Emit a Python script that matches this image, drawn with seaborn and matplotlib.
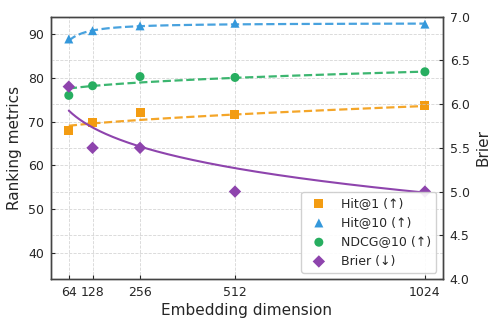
import numpy as np
import pandas as pd
import matplotlib
matplotlib.use('Agg')
import matplotlib.pyplot as plt
import seaborn as sns

# marker values
dims = [64, 128, 256, 512, 1024]
hit1 = [68.0, 69.8, 72.0, 71.6, 73.6]
hit10 = [88.9, 90.8, 91.9, 92.5, 92.3]
ndcg10 = [76.0, 78.2, 80.3, 80.1, 81.4]
brier = [6.2, 5.5, 5.5, 5.0, 5.0]

# trend-line readings at the same dims (the curves are fitted through these)
hit1_trend = [69.0, 69.6, 70.5, 71.5, 73.6]
hit10_trend = [88.5, 90.7, 92.0, 92.3, 92.3]
ndcg10_trend = [77.6, 78.1, 78.9, 80.1, 81.4]
brier_trend = [5.91, 5.76, 5.52, 5.24, 5.0]

sns.set_style('ticks')
plt.rcParams['font.family'] = ['DejaVu Sans']

colors = {'hit1': '#F39C12', 'hit10': '#3498DB', 'ndcg': '#27AE60', 'brier': '#8E44AD'}


def power_fit(x, y, xs):
    # y = a + b * x**c, grid search on c
    x = np.asarray(x, float)
    y = np.asarray(y, float)
    best = None
    for c in np.linspace(-2, 2, 401):
        if abs(c) < 1e-9:
            continue
        A = np.column_stack([np.ones_like(x), x ** c])
        coef = np.linalg.lstsq(A, y, rcond=None)[0]
        err = np.sum((A @ coef - y) ** 2)
        if best is None or err < best[0]:
            best = (err, coef, c)
    _, (a, b), c = best
    return a + b * xs ** c


df = pd.DataFrame({'dim': dims, 'hit1': hit1, 'hit10': hit10, 'ndcg': ndcg10, 'brier': brier})
trends = {'hit1': hit1_trend, 'hit10': hit10_trend, 'ndcg': ndcg10_trend, 'brier': brier_trend}
xs = np.linspace(64, 1024, 300)

fig, ax = plt.subplots(figsize=(4.98, 3.27), dpi=100)
fig.subplots_adjust(left=0.1024, right=0.889, bottom=0.1468, top=0.949)
ax2 = ax.twinx()

for key, mk, lab in [('hit1', 's', 'Hit@1 (↑)'), ('hit10', '^', 'Hit@10 (↑)'), ('ndcg', 'o', 'NDCG@10 (↑)')]:
    fit = pd.DataFrame({'x': xs, 'y': power_fit(dims, trends[key], xs)})
    sns.lineplot(data=fit, x='x', y='y', ax=ax, color=colors[key], lw=1.6, ls='--', alpha=0.9)
    sns.scatterplot(data=df, x='dim', y=key, ax=ax, marker=mk, s=42, color=colors[key],
                    edgecolor='none', zorder=3, label=lab)

fitb = pd.DataFrame({'x': xs, 'y': power_fit(dims, trends['brier'], xs)})
sns.lineplot(data=fitb, x='x', y='y', ax=ax2, color=colors['brier'], lw=1.5)
sns.scatterplot(data=df, x='dim', y='brier', ax=ax2, marker='D', s=40, color=colors['brier'],
                edgecolor='none', zorder=3, label='Brier (↓)')

ax.set_ylim(34, 94)
ax2.set_ylim(4.0, 7.0)
ax.set_xticks(dims)
ax.set_yticks([40, 50, 60, 70, 80, 90])
ax2.set_yticks(np.arange(4.0, 7.01, 0.5))
ax2.set_yticklabels([f'{v:.1f}' for v in np.arange(4.0, 7.01, 0.5)])

ax.set_xlabel('Embedding dimension', fontsize=11, labelpad=3)
ax.set_ylabel('Ranking metrics', fontsize=11)
ax2.set_ylabel('Brier', fontsize=11)

for a in (ax, ax2):
    a.tick_params(direction='in', labelsize=9, length=3, width=0.8, pad=5)
    a.grid(True, ls='--', lw=0.6, color='#cccccc', alpha=0.8)
    for s in a.spines.values():
        s.set_visible(True)
        s.set_color('#444444')
        s.set_linewidth(1.0)
ax2.grid(axis='x', visible=False)

h1, l1 = ax.get_legend_handles_labels()
h2, l2 = ax2.get_legend_handles_labels()
if ax.get_legend() is not None:
    ax.get_legend().remove()
ax2.legend(h1 + h2, l1 + l2, loc='lower right', fontsize=9, framealpha=0.9,
           edgecolor='#cccccc', handletextpad=0.8)

fig.savefig('out.png', dpi=100)
